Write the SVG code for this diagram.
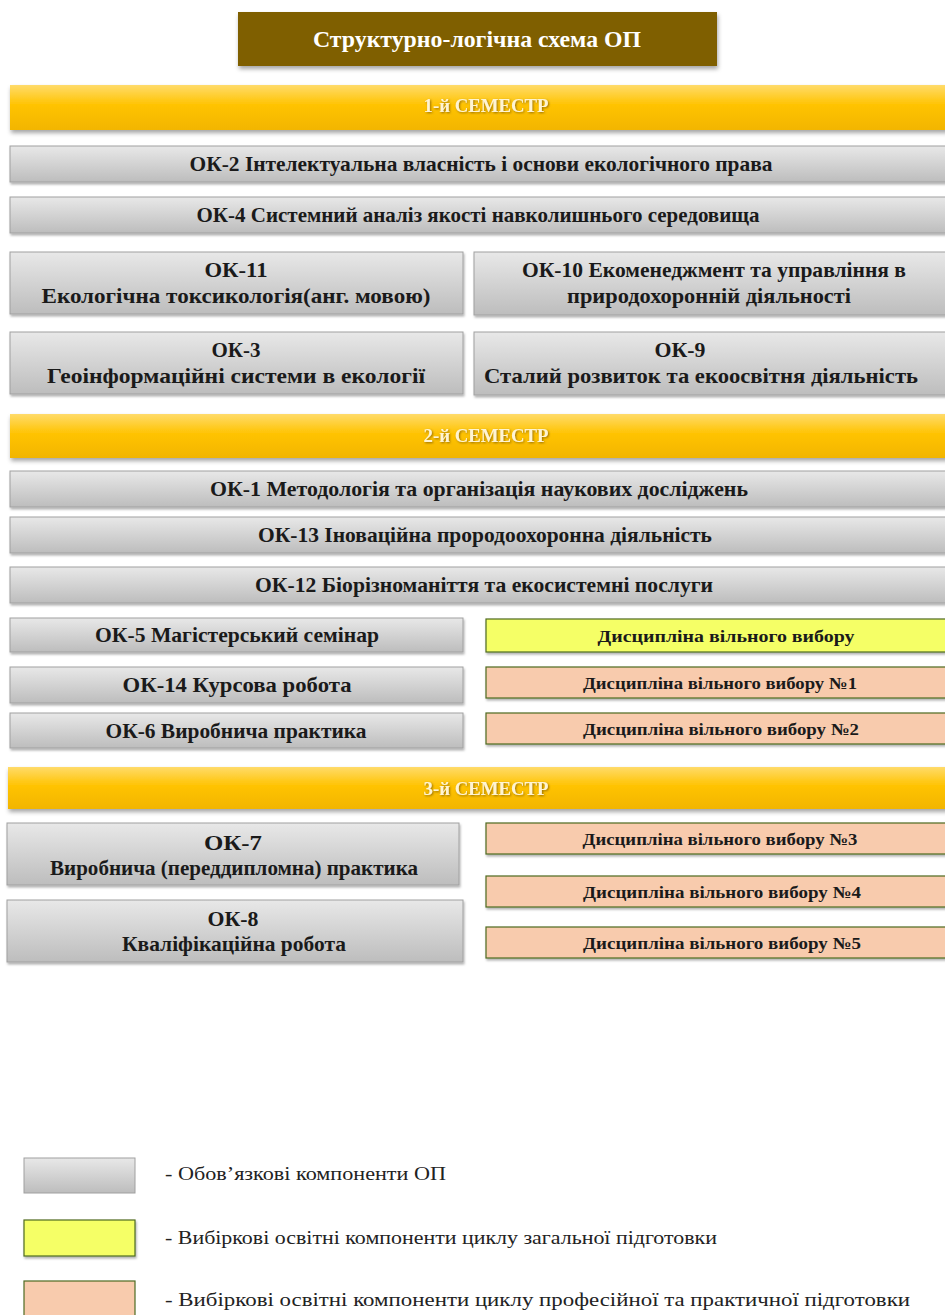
<svg xmlns="http://www.w3.org/2000/svg" width="945" height="1315" viewBox="0 0 945 1315">
<defs>
<linearGradient id="gGray" x1="0" y1="0" x2="0" y2="1"><stop offset="0" stop-color="#E8E8E8"/><stop offset="1" stop-color="#BDBDBD"/></linearGradient>
<linearGradient id="gSem" x1="0" y1="0" x2="0" y2="1"><stop offset="0" stop-color="#FFDB6A"/><stop offset="0.45" stop-color="#FFC300"/><stop offset="1" stop-color="#F2B500"/></linearGradient>
<filter id="sh" x="-5%" y="-20%" width="110%" height="150%"><feDropShadow dx="1" dy="3" stdDeviation="2" flood-color="#000" flood-opacity="0.35"/></filter>
<filter id="shs" x="-5%" y="-20%" width="110%" height="150%"><feDropShadow dx="1" dy="2" stdDeviation="1.2" flood-color="#000" flood-opacity="0.3"/></filter>
<filter id="tsh" x="-5%" y="-30%" width="110%" height="160%"><feDropShadow dx="1" dy="1" stdDeviation="0.8" flood-color="#6b4a00" flood-opacity="0.7"/></filter>
</defs>
<style>
.gray{fill:url(#gGray);stroke:#A0A0A0;stroke-width:1;filter:url(#shs)}
.yel{fill:#F5FF66;stroke:#4E6B22;stroke-width:1.2;filter:url(#shs)}
.pch{fill:#F8CBAD;stroke:#4E6B22;stroke-width:1.2;filter:url(#shs)}
.sem{fill:url(#gSem);filter:url(#sh)}
.t{font-family:"Liberation Serif","Times New Roman",serif;font-weight:bold;font-size:21px;fill:#1a1a1a;text-anchor:middle}
.d{font-family:"Liberation Serif","Times New Roman",serif;font-weight:bold;font-size:17px;fill:#1a1a1a;text-anchor:middle}
.s{font-family:"Liberation Serif","Times New Roman",serif;font-weight:bold;font-size:18px;fill:#FFF4D2;text-anchor:middle;filter:url(#tsh)}
.lg{font-family:"Liberation Serif","Times New Roman",serif;font-size:18px;fill:#222}
</style>
<rect width="945" height="1315" fill="#FFFFFF"/>

<g id="title">
<rect x="238" y="12" width="479" height="54" fill="#7F5F00" filter="url(#sh)"/>
<text x="477" y="47" text-anchor="middle" font-family="Liberation Serif, serif" font-weight="bold" font-size="23" fill="#FFFFFF" textLength="328" lengthAdjust="spacingAndGlyphs">Структурно-логічна схема ОП</text>
</g>

<g id="sem1"><rect class="sem" x="10" y="85" width="945" height="45"/><text class="s" x="486" y="112" textLength="125" lengthAdjust="spacingAndGlyphs">1-й СЕМЕСТР</text></g>
<g id="ok2"><rect class="gray" x="10" y="146" width="945" height="36"/><text class="t" x="481" y="171" textLength="583" lengthAdjust="spacingAndGlyphs">ОК-2  Інтелектуальна  власність і основи екологічного права</text></g>
<g id="ok4"><rect class="gray" x="10" y="197" width="945" height="36"/><text class="t" x="478" y="222" textLength="563" lengthAdjust="spacingAndGlyphs">ОК-4  Системний аналіз якості навколишнього середовища</text></g>
<g id="ok11"><rect class="gray" x="10" y="252" width="453" height="62"/><text class="t" x="236" y="277" textLength="63" lengthAdjust="spacingAndGlyphs">ОК-11</text><text class="t" x="236" y="303" textLength="389" lengthAdjust="spacingAndGlyphs">Екологічна токсикологія(анг. мовою)</text></g>
<g id="ok10"><rect class="gray" x="474" y="252" width="481" height="63"/><text class="t" x="714" y="277" textLength="384" lengthAdjust="spacingAndGlyphs">ОК-10  Екоменеджмент та управління в</text><text class="t" x="709" y="303" textLength="284" lengthAdjust="spacingAndGlyphs">природохоронній  діяльності</text></g>
<g id="ok3"><rect class="gray" x="10" y="332" width="453" height="62"/><text class="t" x="236" y="357" textLength="49" lengthAdjust="spacingAndGlyphs">ОК-3</text><text class="t" x="236" y="383" textLength="378" lengthAdjust="spacingAndGlyphs">Геоінформаційні  системи в екології</text></g>
<g id="ok9"><rect class="gray" x="474" y="332" width="481" height="63"/><text class="t" x="680" y="357" textLength="51" lengthAdjust="spacingAndGlyphs">ОК-9</text><text class="t" x="701" y="383" textLength="434" lengthAdjust="spacingAndGlyphs">Сталий розвиток та екоосвітня діяльність</text></g>

<g id="sem2"><rect class="sem" x="10" y="414" width="945" height="44"/><text class="s" x="486" y="442" textLength="125" lengthAdjust="spacingAndGlyphs">2-й СЕМЕСТР</text></g>
<g id="ok1"><rect class="gray" x="10" y="471" width="945" height="36"/><text class="t" x="479" y="496" textLength="538" lengthAdjust="spacingAndGlyphs">ОК-1  Методологія та організація  наукових  досліджень</text></g>
<g id="ok13"><rect class="gray" x="10" y="517" width="945" height="36"/><text class="t" x="485" y="542" textLength="454" lengthAdjust="spacingAndGlyphs">ОК-13  Іноваційна  прородоохоронна діяльність</text></g>
<g id="ok12"><rect class="gray" x="10" y="567" width="945" height="36"/><text class="t" x="484" y="592" textLength="458" lengthAdjust="spacingAndGlyphs">ОК-12  Біорізноманіття  та екосистемні послуги</text></g>
<g id="ok5"><rect class="gray" x="10" y="618" width="453" height="34"/><text class="t" x="237" y="642" textLength="284" lengthAdjust="spacingAndGlyphs">ОК-5  Магістерський  семінар</text></g>
<g id="dvv"><rect class="yel" x="486" y="619" width="470" height="33"/><text class="d" x="726" y="642" textLength="257" lengthAdjust="spacingAndGlyphs">Дисципліна вільного вибору</text></g>
<g id="ok14"><rect class="gray" x="10" y="667" width="453" height="36"/><text class="t" x="237" y="692" textLength="229" lengthAdjust="spacingAndGlyphs">ОК-14  Курсова  робота</text></g>
<g id="dvv1"><rect class="pch" x="486" y="667" width="470" height="31"/><text class="d" x="720" y="689" textLength="274" lengthAdjust="spacingAndGlyphs">Дисципліна вільного вибору №1</text></g>
<g id="ok6"><rect class="gray" x="10" y="713" width="453" height="35"/><text class="t" x="236" y="738" textLength="261" lengthAdjust="spacingAndGlyphs">ОК-6  Виробнича практика</text></g>
<g id="dvv2"><rect class="pch" x="486" y="713" width="470" height="31"/><text class="d" x="721" y="735" textLength="276" lengthAdjust="spacingAndGlyphs">Дисципліна вільного вибору №2</text></g>

<g id="sem3"><rect class="sem" x="8" y="767" width="947" height="42"/><text class="s" x="486" y="795" textLength="125" lengthAdjust="spacingAndGlyphs">3-й СЕМЕСТР</text></g>
<g id="ok7"><rect class="gray" x="7" y="823" width="452" height="62"/><text class="t" x="233" y="850" textLength="58" lengthAdjust="spacingAndGlyphs">ОК-7</text><text class="t" x="234" y="875" textLength="368" lengthAdjust="spacingAndGlyphs">Виробнича (переддипломна) практика</text></g>
<g id="ok8"><rect class="gray" x="7" y="900" width="456" height="62"/><text class="t" x="233" y="926" textLength="51" lengthAdjust="spacingAndGlyphs">ОК-8</text><text class="t" x="234" y="951" textLength="224" lengthAdjust="spacingAndGlyphs">Кваліфікаційна  робота</text></g>
<g id="dvv3"><rect class="pch" x="486" y="823" width="470" height="31"/><text class="d" x="720" y="845" textLength="275" lengthAdjust="spacingAndGlyphs">Дисципліна вільного вибору №3</text></g>
<g id="dvv4"><rect class="pch" x="486" y="876" width="470" height="31"/><text class="d" x="722" y="898" textLength="278" lengthAdjust="spacingAndGlyphs">Дисципліна вільного вибору №4</text></g>
<g id="dvv5"><rect class="pch" x="486" y="927" width="470" height="31"/><text class="d" x="722" y="949" textLength="278" lengthAdjust="spacingAndGlyphs">Дисципліна вільного вибору №5</text></g>

<g id="connectors"></g>

<g id="legend">
<rect x="24" y="1158" width="111" height="35" fill="url(#gGray)" stroke="#A0A0A0"/>
<text class="lg" x="165" y="1180" textLength="281" lengthAdjust="spacingAndGlyphs">- Обов’язкові компоненти ОП</text>
<rect x="24" y="1220" width="111" height="36" fill="#F5FF66" stroke="#4E6B22" stroke-width="1.2" filter="url(#shs)"/>
<text class="lg" x="165" y="1244" textLength="552" lengthAdjust="spacingAndGlyphs">- Вибіркові освітні компоненти циклу загальної підготовки</text>
<rect x="24" y="1281" width="111" height="36" fill="#F8CBAD" stroke="#4E6B22" stroke-width="1.2"/>
<text class="lg" x="165" y="1306" textLength="745" lengthAdjust="spacingAndGlyphs">- Вибіркові освітні компоненти циклу професійної та практичної підготовки</text>
</g>
</svg>
